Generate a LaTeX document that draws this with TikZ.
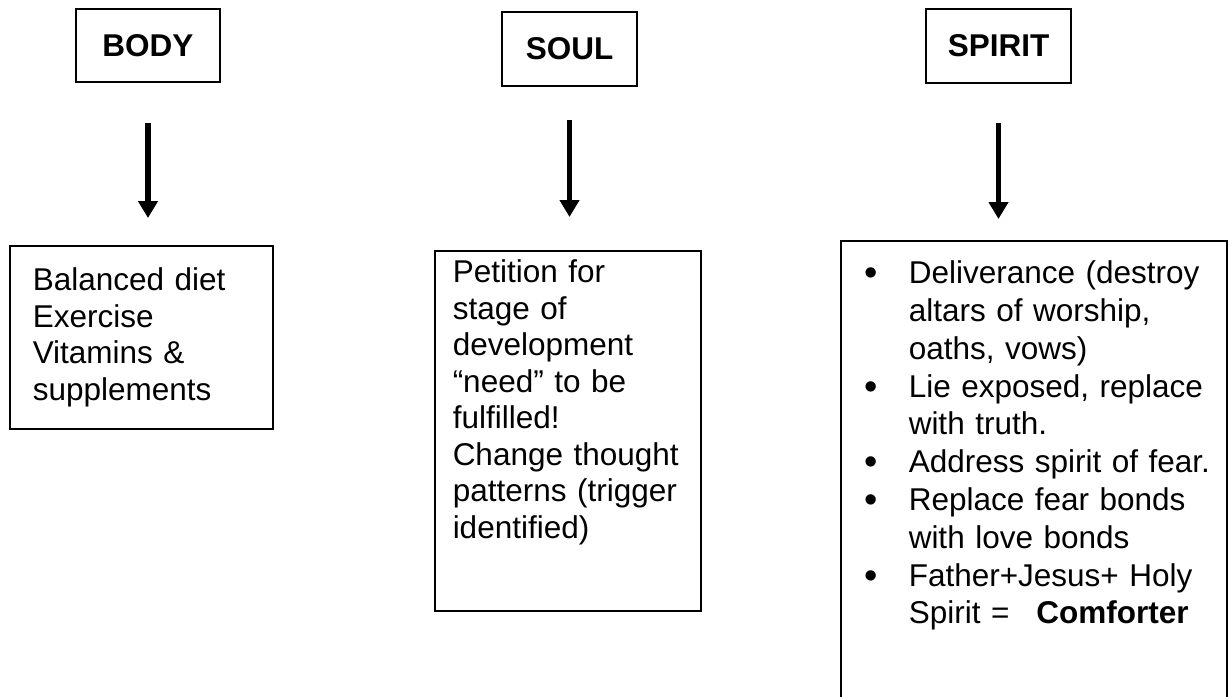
\documentclass[tikz,border=0pt]{standalone}
\usepackage{fontspec}
\setmainfont{Liberation Sans}
\usetikzlibrary{arrows.meta}
\newcommand\spbul{\leavevmode\llap{\raisebox{-2pt}{\fontsize{38}{38}\selectfont\textbullet}\hspace{31pt}}}

\begin{document}
\begin{tikzpicture}[x=1pt,y=-1pt,
    title/.style={draw, line width=1.5pt, font=\fontsize{31.5}{36.5}\selectfont\bfseries},
    listbox/.style={draw, line width=1.5pt, anchor=north west, inner sep=0pt,
        font=\fontsize{31.5}{36.5}\selectfont},
    down/.style={line width=5.5pt, -{Triangle[width=19pt,length=17pt]}}]
    \useasboundingbox[fill=white] (0,0) rectangle (1228,696);
    \clip (0,0) rectangle (1228,696);
    \node[title, minimum width=144pt, minimum height=73pt] (body) at (148,45.5) {BODY};
    \node[title, minimum width=135pt, minimum height=74pt] (soul) at (569.5,49) {SOUL};
    \node[title, minimum width=145pt, minimum height=74pt] (spirit) at (998.5,46) {SPIRIT};
    \node[listbox, text width=263pt, text height=45pt, text depth=138pt] (bodylist) at (9,245)
        {\leftskip=23pt Balanced diet\\Exercise\\Vitamins \&\\supplements\par};
    \node[listbox, text width=266pt, text height=32pt, text depth=328pt] (soullist) at (434,250)
        {\leftskip=18pt Petition for\\stage of\\development\\“need” to be\\fulfilled!\\Change thought\\patterns (trigger\\identified)\par};
    \node[listbox, text width=386pt, text height=43pt, text depth=500pt,
        font=\fontsize{31.5}{37.8}\selectfont] (spiritlist) at (840,240)
        {\leftskip=68pt \spbul Deliverance (destroy\\altars of worship,\\oaths, vows)\\
        \spbul Lie exposed, replace\\with truth.\\
        \spbul Address spirit of fear.\\
        \spbul Replace fear bonds\\with love bonds\\
        \spbul Father+Jesus+ Holy\\Spirit =\hspace{27pt}\textbf{Comforter}\par};
    \draw[down, shorten <=40pt, shorten >=27pt] (body.south) -- (body.south |- bodylist.north);
    \draw[down, shorten <=33pt, shorten >=33pt] (soul.south) -- (soul.south |- soullist.north);
    \draw[down, shorten <=39pt, shorten >=21pt] (spirit.south) -- (spirit.south |- spiritlist.north);
\end{tikzpicture}
\end{document}
